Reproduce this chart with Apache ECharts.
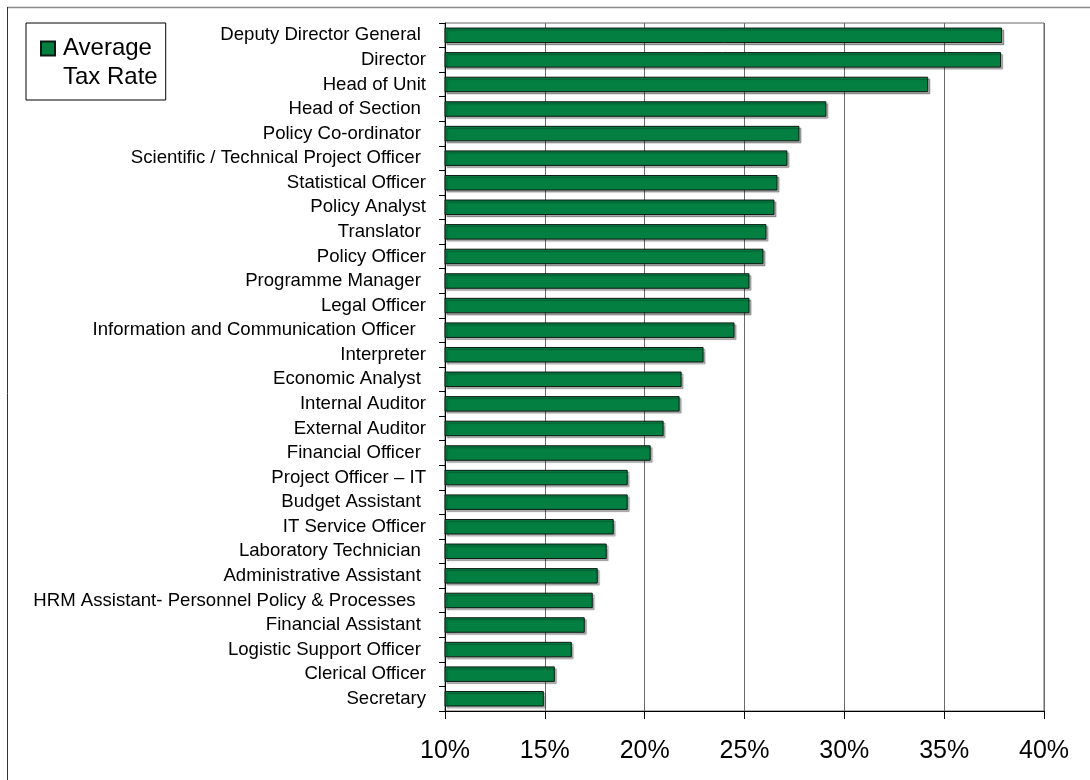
<!DOCTYPE html>
<html>
<head>
<meta charset="utf-8">
<title>Average Tax Rate by Job Title</title>
<script src="https://cdn.jsdelivr.net/npm/echarts@6/dist/echarts.min.js"></script>
<style>
  html, body { margin: 0; padding: 0; background: #ffffff; }
  #chart { width: 1090px; height: 780px; }
</style>
</head>
<body>
<div id="chart"></div>
<script>
// Job titles, top to bottom (trailing spaces are part of the labels)
const jobTitles = [
  'Deputy Director General ',
  'Director',
  'Head of Unit',
  'Head of Section ',
  'Policy Co-ordinator ',
  'Scientific / Technical Project Officer ',
  'Statistical Officer',
  'Policy Analyst',
  'Translator ',
  'Policy Officer',
  'Programme Manager ',
  'Legal Officer',
  'Information and Communication Officer  ',
  'Interpreter',
  'Economic Analyst ',
  'Internal Auditor',
  'External Auditor',
  'Financial Officer ',
  'Project Officer \u2013 IT',
  'Budget Assistant ',
  'IT Service Officer',
  'Laboratory Technician ',
  'Administrative Assistant ',
  'HRM Assistant- Personnel Policy & Processes  ',
  'Financial Assistant ',
  'Logistic Support Officer ',
  'Clerical Officer',
  'Secretary'
];

// Average tax rate, in percent
const averageTaxRate = [
  37.9, 37.85, 34.2, 29.1, 27.75, 27.15, 26.65, 26.5, 26.1, 25.95,
  25.25, 25.25, 24.5, 22.95, 21.85, 21.75, 20.95, 20.3, 19.15, 19.15,
  18.45, 18.1, 17.65, 17.4, 17.0, 16.35, 15.5, 14.95
];

// Value-axis range and step, in percent
const rateMin = 10;
const rateMax = 40;
const rateStep = 5;

const seriesName = 'Average\nTax Rate';

const chart = echarts.init(document.getElementById('chart'), null, { renderer: 'canvas' });

const font = '"Liberation Sans", Arial, Helvetica, sans-serif';

chart.setOption({
  animation: false,
  backgroundColor: '#ffffff',
  textStyle: { fontFamily: font, color: '#000000' },
  graphic: [
    // outer frame: only the top and left edges are inside the canvas
    { type: 'line', shape: { x1: 7, y1: 7.5, x2: 1090, y2: 7.5 }, style: { stroke: '#8a8a8a', lineWidth: 1.5 }, silent: true },
    { type: 'line', shape: { x1: 7.5, y1: 7, x2: 7.5, y2: 780 }, style: { stroke: '#333333', lineWidth: 1 }, silent: true }
  ],
  legend: {
    left: 26,
    top: 23,
    orient: 'vertical',
    padding: [11, 8, 8, 14],
    borderColor: '#000000',
    borderWidth: 1,
    backgroundColor: '#ffffff',
    itemWidth: 17,
    itemHeight: 43,
    // square swatch aligned with the first text line
    icon: 'path://M0,0L14,0L14,14L0,14Z M17,43L17,43',
    selectedMode: false,
    textStyle: { fontFamily: font, fontSize: 24, lineHeight: 29, color: '#000000' },
    data: [seriesName]
  },
  grid: {
    left: 445,
    right: 46,
    top: 23,
    bottom: 69,
    show: true,
    borderColor: '#666666',
    borderWidth: 1,
    containLabel: false
  },
  xAxis: {
    type: 'value',
    min: rateMin,
    max: rateMax,
    interval: rateStep,
    axisLine: { show: true, lineStyle: { color: '#000000', width: 1 } },
    axisTick: { show: true, inside: false, length: 8, lineStyle: { color: '#000000' } },
    axisLabel: {
      formatter: '{value}%',
      fontFamily: font,
      fontSize: 25,
      color: '#000000',
      margin: 28
    },
    splitLine: { show: true, lineStyle: { color: '#6a6a6a', width: 1 } }
  },
  yAxis: {
    type: 'category',
    inverse: true,
    data: jobTitles,
    axisLine: { show: true, lineStyle: { color: '#000000', width: 1 } },
    axisTick: { show: true, inside: false, length: 6, alignWithLabel: false, lineStyle: { color: '#000000' } },
    axisLabel: {
      fontFamily: font,
      fontSize: 18.6,
      color: '#000000',
      margin: 19,
      interval: 0
    },
    splitLine: { show: false }
  },
  series: [{
    name: seriesName,
    type: 'bar',
    data: averageTaxRate,
    barCategoryGap: '37%',
    itemStyle: {
      color: '#037f42',
      borderColor: '#0d1a12',
      borderWidth: 1,
      shadowColor: 'rgba(0,0,0,0.30)',
      shadowBlur: 1,
      shadowOffsetX: 2,
      shadowOffsetY: 2
    },
    emphasis: { disabled: true }
  }]
});
</script>
</body>
</html>
